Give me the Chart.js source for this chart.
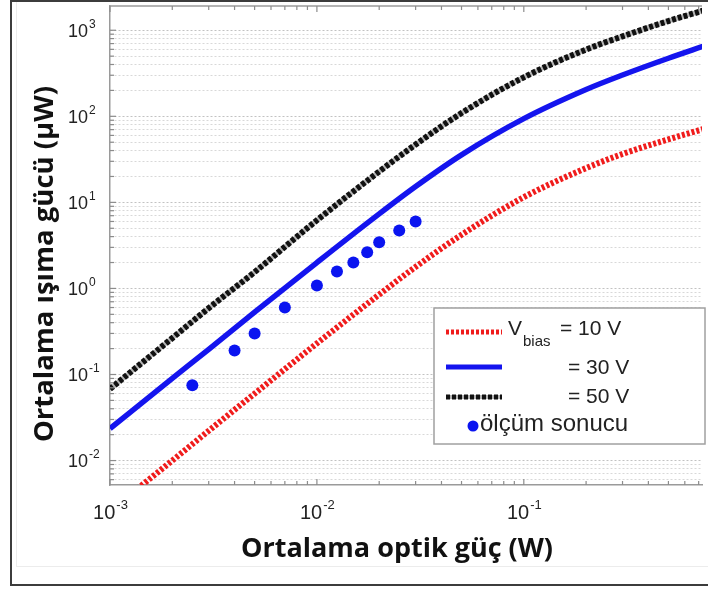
<!DOCTYPE html>
<html lang="tr">
<head>
<meta charset="utf-8">
<title>Ortalama ışıma gücü – ortalama optik güç</title>
<script src="https://cdn.jsdelivr.net/npm/chart.js@4.4.1/dist/chart.umd.min.js"></script>
<style>
  html, body { margin: 0; padding: 0; background: #fff; }
  #wrap { position: relative; width: 708px; height: 590px; overflow: hidden; }
  #frame { position: absolute; left: 10px; top: 0; width: 760px; height: 582px;
           border: 2px solid #3c3c3c; border-right: none; pointer-events: none; }
  #inner { position: absolute; left: 16px; top: 0; width: 760px; height: 566px;
           border-left: 1px solid #ececec; border-bottom: 1px solid #ececec; pointer-events: none; }
</style>
</head>
<body>
<div id="wrap">
  <div id="inner"></div>
  <canvas id="chart"></canvas>
  <div id="frame"></div>
</div>
<script>
// ── Data ───────────────────────────────────────────
// optical power samples (W) for the three simulated curves
const powerW  = [0.001, 0.002, 0.003, 0.005, 0.01, 0.02, 0.03, 0.05, 0.1, 0.2, 0.3, 0.5, 0.75];
// average radiated power (µW)
const bias10V = [0.0026, 0.0100, 0.0222, 0.060, 0.23, 0.85, 1.78, 4.2, 11.5, 25, 36.5, 54, 72];
const bias30V = [0.0235, 0.090, 0.196, 0.53, 2.0, 7.36, 15.3, 35.7, 94, 205, 302, 473, 661];
const bias50V = [0.068, 0.265, 0.59, 1.55, 6.2, 22.8, 47, 109, 284, 597, 849, 1280, 1714];

// measurement
const measPowerW = [0.0025, 0.004, 0.005, 0.007, 0.01, 0.0125, 0.015, 0.0175, 0.02, 0.025, 0.03];
const measUW     = [0.075, 0.19, 0.30, 0.60, 1.08, 1.57, 2.0, 2.64, 3.44, 4.7, 6.0];

// axes
const X_MIN = 0.001, X_MAX = 0.7265;
const Y_MIN = 0.0052, Y_MAX = 1913;
const xDecades = [-3, -2, -1];
const yDecades = [-2, -1, 0, 1, 2, 3];
const mantissas = [1, 2, 3, 4, 5, 6, 7, 8, 9];

const X_TITLE = "Ortalama optik güç (W)";
const Y_TITLE = "Ortalama ışıma gücü (µW)";
const SANS = "'Liberation Sans', Arial, sans-serif";

// ── Helpers ────────────────────────────────────────
function logTicks(decades, min, max) {
  const out = [];
  for (let e = decades[0] - 1; e <= decades[decades.length - 1]; e++) {
    mantissas.forEach(m => {
      const v = +(m * Math.pow(10, e)).toPrecision(6);
      if (v >= min && v <= max) out.push({ value: v });
    });
  }
  return out;
}
function isDecade(v) {
  const l = Math.log10(v);
  return Math.abs(l - Math.round(l)) < 1e-9;
}
function pts(xs, ys) { return xs.map((x, i) => ({ x, y: ys[i] })); }

function line(ctx, x1, y1, x2, y2) {
  ctx.beginPath(); ctx.moveTo(x1, y1); ctx.lineTo(x2, y2); ctx.stroke();
}

// "10" with a raised exponent
function powerLabel(ctx, exp, x, y, size, align) {
  const base = "10", sup = String(exp);
  ctx.font = `${size}px ${SANS}`;
  const wb = ctx.measureText(base).width;
  ctx.font = `${Math.round(size * 0.65)}px ${SANS}`;
  const ws = ctx.measureText(sup).width;
  let left = align === "center" ? x - (wb + ws) / 2 : x - wb;
  ctx.textAlign = "left";
  ctx.textBaseline = "alphabetic";
  ctx.font = `${size}px ${SANS}`;
  ctx.fillText(base, left, y);
  ctx.font = `${Math.round(size * 0.65)}px ${SANS}`;
  ctx.fillText(sup, left + wb + 1, y - size * 0.5);
}

// ── Axis decorations, titles and legend ────────────
const decorations = {
  id: "decorations",
  afterDraw(chart) {
    const { ctx, chartArea: a, scales: { x, y } } = chart;
    ctx.save();

    // top frame line
    ctx.strokeStyle = "#9a9a9a";
    ctx.lineWidth = 1.5;
    line(ctx, a.left, a.top, a.right, a.top);

    // inward tick marks
    ctx.strokeStyle = "#8c8c8c";
    ctx.lineWidth = 1.2;
    x.ticks.forEach(t => {
      const px = x.getPixelForValue(t.value);
      const len = isDecade(t.value) ? 6 : 4;
      line(ctx, px, a.bottom, px, a.bottom - len);
      line(ctx, px, a.top, px, a.top + len);
    });
    y.ticks.forEach(t => {
      const py = y.getPixelForValue(t.value);
      const len = isDecade(t.value) ? 6 : 4;
      line(ctx, a.left, py, a.left + len, py);
    });

    // tick labels
    ctx.fillStyle = "#222";
    yDecades.forEach(e => {
      const py = y.getPixelForValue(Math.pow(10, e));
      powerLabel(ctx, e, 88, py + 6.5, 18, "right");
    });
    xDecades.forEach(e => {
      const px = x.getPixelForValue(Math.pow(10, e));
      powerLabel(ctx, e, px, 519, 20, "center");
    });

    // axis titles
    ctx.fillStyle = "#111";
    ctx.textAlign = "center";
    ctx.textBaseline = "alphabetic";
    ctx.font = "bold 27px 'Open Sans', sans-serif";
    ctx.fillText(X_TITLE, 397, 557);
    ctx.save();
    ctx.translate(53, 264);
    ctx.rotate(-Math.PI / 2);
    ctx.font = "bold 27.5px 'Open Sans', sans-serif";
    ctx.fillText(Y_TITLE, 0, 0);
    ctx.restore();

    // legend
    ctx.fillStyle = "#fff";
    ctx.fillRect(434, 308, 271, 136);
    ctx.strokeStyle = "#a0a0a0";
    ctx.lineWidth = 1.5;
    ctx.strokeRect(434, 308, 271, 136);

    ctx.lineWidth = 5;
    ctx.setLineDash([3, 2]);
    ctx.strokeStyle = "#f01c1c";
    line(ctx, 446, 332, 502, 332);
    ctx.setLineDash([]);
    ctx.strokeStyle = "#1414ee";
    line(ctx, 446, 367, 502, 367);
    ctx.strokeStyle = "#b4b4b4";
    ctx.lineWidth = 4;
    line(ctx, 446, 397, 502, 397);
    ctx.lineWidth = 5;
    ctx.setLineDash([4, 2]);
    ctx.strokeStyle = "#111";
    line(ctx, 446, 397, 502, 397);
    ctx.setLineDash([]);

    ctx.fillStyle = "#0a14f0";
    ctx.beginPath(); ctx.arc(473, 426, 5.5, 0, Math.PI * 2); ctx.fill();

    ctx.fillStyle = "#222";
    ctx.textAlign = "left";
    ctx.font = `21px ${SANS}`;
    ctx.fillText("V", 508, 335);
    const wv = ctx.measureText("V").width;
    ctx.font = `15px ${SANS}`;
    ctx.fillText("bias", 508 + wv + 1, 346);
    ctx.font = `21px ${SANS}`;
    ctx.fillText("= 10 V", 560, 335);
    ctx.fillText("= 30 V", 568, 374);
    ctx.fillText("= 50 V", 568, 403);
    ctx.font = `24px ${SANS}`;
    ctx.fillText("ölçüm sonucu", 480, 431);

    ctx.restore();
  }
};

// ── Chart ──────────────────────────────────────────
// datasets later in the list are painted first, so the grey backing
// of the 50 V curve sits under its black dots
new Chart(document.getElementById("chart"), {
  type: "line",
  data: {
    datasets: [
      { label: "ölçüm sonucu", data: pts(measPowerW, measUW), showLine: false,
        pointRadius: 6, pointBackgroundColor: "#0a14f0", pointBorderWidth: 0 },
      { label: "Vbias = 10 V", data: pts(powerW, bias10V), borderColor: "#f01c1c",
        borderWidth: 6, borderDash: [3, 2], pointRadius: 0, clip: 0,
        cubicInterpolationMode: "monotone" },
      { label: "= 30 V", data: pts(powerW, bias30V), borderColor: "#1414ee",
        borderWidth: 5.5, pointRadius: 0, clip: 0, cubicInterpolationMode: "monotone" },
      { label: "= 50 V", data: pts(powerW, bias50V), borderColor: "#111",
        borderWidth: 6, borderDash: [4, 2], pointRadius: 0, clip: 0,
        cubicInterpolationMode: "monotone" },
      { label: "= 50 V (zemin)", data: pts(powerW, bias50V), borderColor: "#b4b4b4",
        borderWidth: 4.5, pointRadius: 0, clip: 0, cubicInterpolationMode: "monotone" },
    ],
  },
  options: {
    responsive: true,
    maintainAspectRatio: false,
    animation: false,
    events: [],
    layout: { padding: { top: 5, right: 0, left: 0, bottom: 0 } },
    plugins: { legend: { display: false }, tooltip: { enabled: false } },
    scales: {
      x: {
        type: "logarithmic", min: X_MIN, max: X_MAX,
        afterBuildTicks: s => { s.ticks = logTicks(xDecades, X_MIN, X_MAX); },
        afterFit: s => { s.height = 105; },
        ticks: { display: false },
        grid: { display: false, drawTicks: false },
        border: { color: "#9a9a9a", width: 1.5 },
      },
      y: {
        type: "logarithmic", min: Y_MIN, max: Y_MAX,
        afterBuildTicks: s => { s.ticks = logTicks(yDecades, Y_MIN, Y_MAX); },
        afterFit: s => { s.width = 110; },
        ticks: { display: false },
        grid: {
          drawTicks: false,
          lineWidth: 1,
          color: c => (c.tick && isDecade(c.tick.value)) ? "#c2c2c2" : "#d8d8d8",
        },
        border: { color: "#9a9a9a", width: 1.5, dash: [2, 2] },
      },
    },
  },
  plugins: [decorations],
});
</script>
</body>
</html>
